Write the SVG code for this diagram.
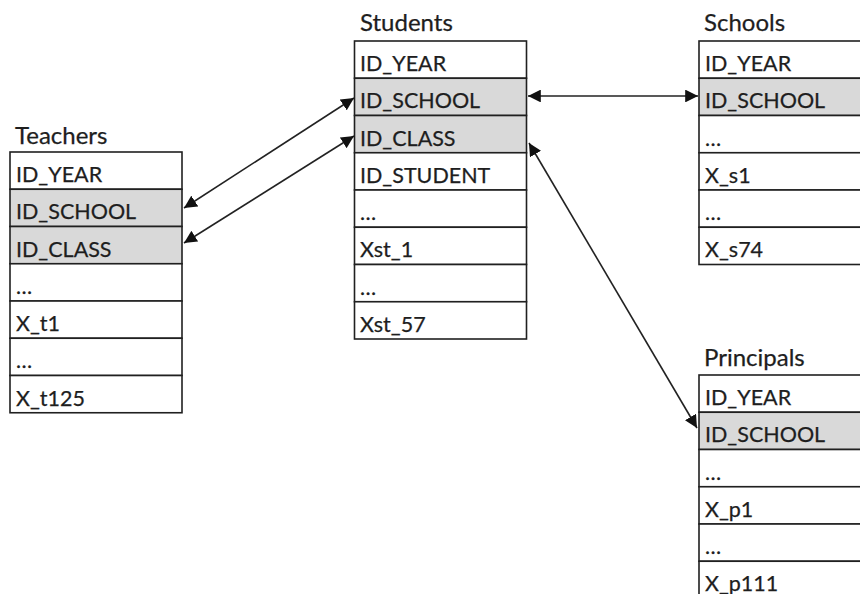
<svg xmlns="http://www.w3.org/2000/svg" width="860" height="594" viewBox="0 0 860 594">
  <style>
    .title { font-family: Lato, "Liberation Sans", sans-serif; font-size: 24px; fill: #1e1e1e; stroke: #1e1e1e; stroke-width: 0.25; }
    .cell { fill: #ffffff; stroke: #202020; stroke-width: 1.6; }
    .key { fill: #d9d9d9; }
    .txt { font-family: Lato, "Liberation Sans", sans-serif; font-size: 21.5px; fill: #1e1e1e; stroke: #1e1e1e; stroke-width: 0.25; }
    .link { stroke: #222222; stroke-width: 1.6; fill: none; marker-start: url(#head); marker-end: url(#head); }
  </style>
  <defs>
    <marker id="head" viewBox="0 0 10 10" refX="10" refY="5" markerWidth="8" markerHeight="8" markerUnits="strokeWidth" orient="auto-start-reverse">
      <path d="M0,0 L10,5 L0,10 Z" fill="#111111"/>
    </marker>
  </defs>
  <rect width="860" height="594" fill="#ffffff"/>

  <!-- Teachers table -->
  <g id="teachers">
    <text class="title" x="15" y="144">Teachers</text>
    <rect class="cell" x="10" y="152" width="172" height="37.25"/>
    <rect class="cell key" x="10" y="189.25" width="172" height="37.25"/>
    <rect class="cell key" x="10" y="226.5" width="172" height="37.25"/>
    <rect class="cell" x="10" y="263.75" width="172" height="37.25"/>
    <rect class="cell" x="10" y="301" width="172" height="37.25"/>
    <rect class="cell" x="10" y="338.25" width="172" height="37.25"/>
    <rect class="cell" x="10" y="375.5" width="172" height="37.25"/>
    <text class="txt" x="16" y="182">ID_YEAR</text>
    <text class="txt" x="16" y="219.25">ID_SCHOOL</text>
    <text class="txt" x="16" y="256.5">ID_CLASS</text>
    <text class="txt" x="16" y="293.75">…</text>
    <text class="txt" x="16" y="331">X_t1</text>
    <text class="txt" x="16" y="368.25">…</text>
    <text class="txt" x="16" y="405.5">X_t125</text>
  </g>

  <!-- Students table -->
  <g id="students">
    <text class="title" x="360" y="31">Students</text>
    <rect class="cell" x="354.5" y="41" width="172" height="37.25"/>
    <rect class="cell key" x="354.5" y="78.25" width="172" height="37.25"/>
    <rect class="cell key" x="354.5" y="115.5" width="172" height="37.25"/>
    <rect class="cell" x="354.5" y="152.75" width="172" height="37.25"/>
    <rect class="cell" x="354.5" y="190" width="172" height="37.25"/>
    <rect class="cell" x="354.5" y="227.25" width="172" height="37.25"/>
    <rect class="cell" x="354.5" y="264.5" width="172" height="37.25"/>
    <rect class="cell" x="354.5" y="301.75" width="172" height="37.25"/>
    <text class="txt" x="360" y="71">ID_YEAR</text>
    <text class="txt" x="360" y="108.25">ID_SCHOOL</text>
    <text class="txt" x="360" y="145.5">ID_CLASS</text>
    <text class="txt" x="360" y="182.75">ID_STUDENT</text>
    <text class="txt" x="360" y="220">…</text>
    <text class="txt" x="360" y="257.25">Xst_1</text>
    <text class="txt" x="360" y="294.5">…</text>
    <text class="txt" x="360" y="331.75">Xst_57</text>
  </g>

  <!-- Schools table -->
  <g id="schools">
    <text class="title" x="704" y="31">Schools</text>
    <rect class="cell" x="699" y="41" width="180" height="37.25"/>
    <rect class="cell key" x="699" y="78.25" width="180" height="37.25"/>
    <rect class="cell" x="699" y="115.5" width="180" height="37.25"/>
    <rect class="cell" x="699" y="152.75" width="180" height="37.25"/>
    <rect class="cell" x="699" y="190" width="180" height="37.25"/>
    <rect class="cell" x="699" y="227.25" width="180" height="37.25"/>
    <text class="txt" x="705" y="71">ID_YEAR</text>
    <text class="txt" x="705" y="108.25">ID_SCHOOL</text>
    <text class="txt" x="705" y="145.5">…</text>
    <text class="txt" x="705" y="182.75">X_s1</text>
    <text class="txt" x="705" y="220">…</text>
    <text class="txt" x="705" y="257.25">X_s74</text>
  </g>

  <!-- Principals table -->
  <g id="principals">
    <text class="title" x="704" y="366">Principals</text>
    <rect class="cell" x="699" y="375" width="180" height="37.25"/>
    <rect class="cell key" x="699" y="412.25" width="180" height="37.25"/>
    <rect class="cell" x="699" y="449.5" width="180" height="37.25"/>
    <rect class="cell" x="699" y="486.75" width="180" height="37.25"/>
    <rect class="cell" x="699" y="524" width="180" height="37.25"/>
    <rect class="cell" x="699" y="561.25" width="180" height="37.25"/>
    <text class="txt" x="705" y="405">ID_YEAR</text>
    <text class="txt" x="705" y="442.25">ID_SCHOOL</text>
    <text class="txt" x="705" y="479.5">…</text>
    <text class="txt" x="705" y="516.75">X_p1</text>
    <text class="txt" x="705" y="554">…</text>
    <text class="txt" x="705" y="591.25">X_p111</text>
  </g>

  <!-- Key relationships -->
  <g id="connectors">
    <line class="link" x1="184" y1="208" x2="354" y2="98"/>
    <line class="link" x1="184" y1="243" x2="354" y2="136"/>
    <line class="link" x1="528" y1="96" x2="698" y2="96"/>
    <line class="link" x1="529" y1="143" x2="697" y2="428"/>
  </g>
</svg>
